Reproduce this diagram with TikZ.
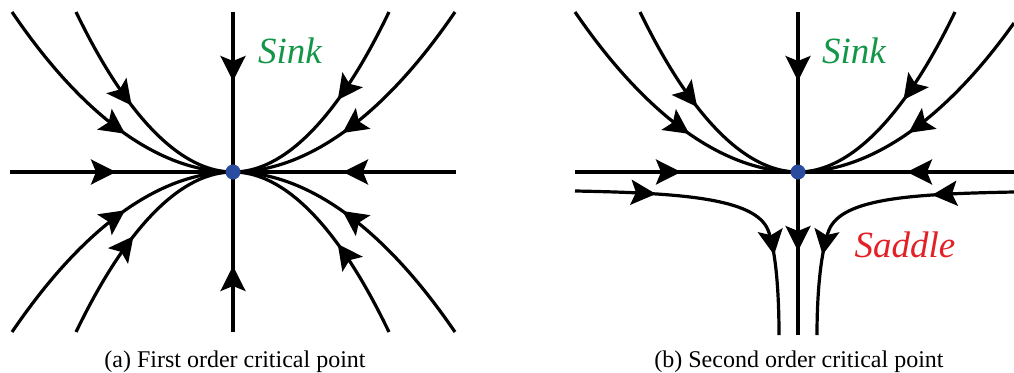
\documentclass[tikz,border=0pt]{standalone}
\usepackage{fontspec}
\setmainfont{Liberation Serif}
\usetikzlibrary{arrows.meta,decorations.markings}

\definecolor{sinkgreen}{RGB}{20,150,72}
\definecolor{saddlered}{RGB}{226,32,38}
\definecolor{pointblue}{RGB}{42,76,158}

\tikzset{
  stream/.style={line width=3.2pt, black},
  headtip/.tip={Stealth[length=25pt,width=25pt,inset=5pt]},
  flow/.style={postaction={decorate,decoration={markings,
      mark=at position #1 with {\arrow{headtip}}}}},
  flowtwo/.style 2 args={postaction={decorate,decoration={markings,
      mark=at position #1 with {\arrow{headtip}},
      mark=at position #2 with {\arrow{headtip}}}}},
  critpt/.style={circle, fill=pointblue, inner sep=0pt, minimum size=15pt},
  label/.style={font=\fontsize{37}{40}\selectfont\itshape, inner sep=0pt, anchor=base},
  caption/.style={font=\fontsize{24}{28}\selectfont, inner sep=0pt, anchor=base},
}

\begin{document}
\begin{tikzpicture}[x=1pt,y=-1pt]
\useasboundingbox (0,0) rectangle (1014,372);

% ---------- (a) first order critical point ----------
\coordinate (A) at (233,172);
\coordinate (A-ul1) at (12,12);
\coordinate (A-ul2) at (76,12);
\coordinate (A-ur2) at (389,12);
\coordinate (A-ur1) at (455,12);
\coordinate (A-ll1) at (12,332);
\coordinate (A-ll2) at (76,332);
\coordinate (A-lr2) at (389,332);
\coordinate (A-lr1) at (455,332);
\coordinate (A-w) at (10,172);
\coordinate (A-e) at (456,172);
\coordinate (A-n) at (233,12);
\coordinate (A-s) at (233,332);

\begin{scope}[stream]
  \draw[flow=167pt] (A-ul1) parabola[bend at end] (A);
  \draw[flow=109pt] (A-ul2) parabola[bend at end] (A);
  \draw[flow=102pt] (A-ur2) parabola[bend at end] (A);
  \draw[flow=166pt] (A-ur1) parabola[bend at end] (A);
  \draw[flow=167pt] (A-ll1) parabola[bend at end] (A);
  \draw[flow=112pt] (A-ll2) parabola[bend at end] (A);
  \draw[flow=102pt] (A-lr2) parabola[bend at end] (A);
  \draw[flow=166pt] (A-lr1) parabola[bend at end] (A);
  \draw[flow=106pt] (A-w) -- (A);
  \draw[flow=113pt] (A-e) -- (A);
  \draw[flow=69pt] (A-n) -- (A);
  \draw[flow=66pt] (A-s) -- (A);
\end{scope}
\node[critpt] (sinkA) at (A) {};
\node[label, text=sinkgreen] (sinkAlbl) at (290,63) {Sink};
\node[caption] (capA) at (235,367) {(a) First order critical point};

% ---------- (b) second order critical point ----------
\coordinate (B) at (798,172);
\coordinate (B-ul1) at (575,12);
\coordinate (B-ul2) at (640,12);
\coordinate (B-ur2) at (955,12);
\coordinate (B-ur1) at (1014,23);
\coordinate (B-w) at (575,172);
\coordinate (B-e) at (1014,172);
\coordinate (B-n) at (798,12);
\coordinate (B-s) at (798,335);
\coordinate (B-sw) at (575,191);
\coordinate (B-swk) at (768,230);
\coordinate (B-swe) at (779,335);
\coordinate (B-se) at (1014,192);
\coordinate (B-sek) at (829,230);
\coordinate (B-see) at (817,335);

\begin{scope}[stream]
  \draw[flow=168pt] (B-ul1) parabola[bend at end] (B);
  \draw[flow=111pt] (B-ul2) parabola[bend at end] (B);
  \draw[flow=102pt] (B-ur2) parabola[bend at end] (B);
  \draw[flow=153pt] (B-ur1) parabola[bend at end] (B);
  \draw[flow=106pt] (B-w) -- (B);
  \draw[flow=107pt] (B-e) -- (B);
  \draw[flow=69pt] (B-n) -- (B);
  \draw[flow=79pt] (B) -- (B-s);
  % saddle branches bending downward
  \draw[flowtwo={81pt}{229pt}] (B-sw) .. controls (680,193) and (755,198) .. (B-swk)
        .. controls (774,245) and (779,280) .. (B-swe);
  \draw[flowtwo={82pt}{221pt}] (B-se) .. controls (912,194) and (842,198) .. (B-sek)
        .. controls (823,245) and (817,280) .. (B-see);
\end{scope}
\node[critpt] (sinkB) at (B) {};
\node[label, text=sinkgreen] (sinkBlbl) at (854,63) {Sink};
\node[label, text=saddlered] (saddleBlbl) at (905,257) {Saddle};
\node[caption] (capB) at (799,367) {(b) Second order critical point};
\end{tikzpicture}
\end{document}
